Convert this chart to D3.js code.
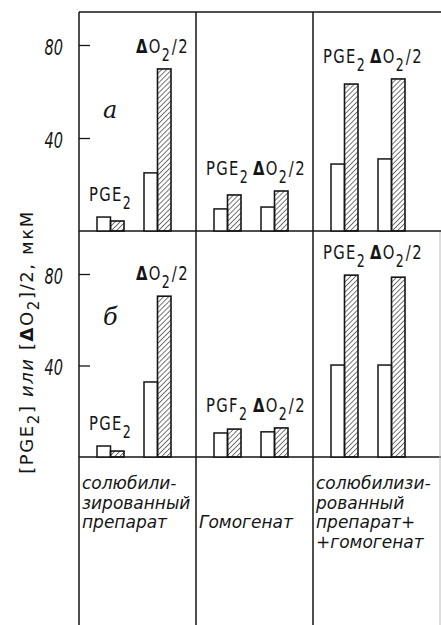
<!DOCTYPE html>
<html>
<head>
<meta charset="utf-8">
<script src="https://cdn.jsdelivr.net/npm/d3@7"></script>
<style>
body { margin: 0; background: #fff; }
svg { display: block; }
.frame line { stroke: #151515; stroke-width: 1.5; }
.tick line { stroke: #151515; stroke-width: 1.3; }
.tick text { font-family: "DejaVu Sans", sans-serif; font-style: italic; font-size: 22px; fill: #151515; }
.barlabel { font-family: "DejaVu Sans", sans-serif; font-size: 20px; letter-spacing: 1.8px; fill: #151515; }
.cat { font-family: "DejaVu Sans", sans-serif; font-style: italic; font-size: 17px; fill: #151515; }
.letter { font-family: "DejaVu Serif", serif; font-style: italic; font-size: 24px; fill: #151515; }
.ytitle { font-family: "DejaVu Sans", sans-serif; font-size: 18px; letter-spacing: 1.6px; fill: #151515; }
</style>
</head>
<body>
<div id="chart"></div>
<script>
// данные
const columns = ["солюбилизированный препарат", "Гомогенат", "солюбилизированный препарат + гомогенат"]
const colLines = [["солюбили-", "зированный", "препарат"], ["", "", "Гомогенат"], ["солюбилизи-", "рованный", "препарат+", "+гомогенат"]]
const pairs = ["p1", "p2"]
const ticks = [40, 80]

// панель а
const openA = [[6, 25], [9.5, 10.3], [28.8, 31]]
const hatchA = [[4.3, 69.7], [15.5, 17.2], [63.2, 65.4]]
const labelsA = [["PGE2", "ΔO2/2"], ["PGE2", "ΔO2/2"], ["PGE2", "ΔO2/2"]]

// панель б
const openB = [[4.8, 32.8], [10.5, 11], [40.2, 40.2]]
const hatchB = [[2.6, 70.3], [12.2, 12.7], [79.5, 78.6]]
const labelsB = [["PGE2", "ΔO2/2"], ["PGF2", "ΔO2/2"], ["PGE2", "ΔO2/2"]]

const width = 441
const height = 625
const left = 79
const narrow = 0.74   // узкий чертёжный шрифт
const tickNarrow = 0.66

const svg = d3.select("div#chart").append("svg").attr("width", width).attr("height", height)

// штриховка
const defs = svg.append("defs")
defs.append("pattern")
    .attr("id", "hatch")
    .attr("patternUnits", "userSpaceOnUse")
    .attr("width", 3.6).attr("height", 3.6)
    .attr("patternTransform", "rotate(45)")
    .append("line")
    .attr("x1", 0).attr("y1", 0).attr("x2", 0).attr("y2", 3.6)
    .attr("stroke", "#1a1a1a").attr("stroke-width", 1.2)

const colX = d3.scaleBand().domain(d3.range(columns.length)).range([left, 430])
const pairX = d3.scaleBand().domain(pairs).range([18, 92]).paddingInner(20 / 47)
const kindX = d3.scaleBand().domain(["open", "hatch"]).range([0, pairX.bandwidth()])

const yA = d3.scaleLinear().domain([0, 80]).range([231, 45])
const yB = d3.scaleLinear().domain([0, 80]).range([457, 274])

// рамка
const frame = svg.append("g").attr("class", "frame")
;[12, 231, 457].forEach(yy => {
    frame.append("line").attr("x1", left).attr("x2", width).attr("y1", yy).attr("y2", yy)
})
;[0, 1, 2].forEach(c => {
    frame.append("line").attr("x1", colX(c)).attr("x2", colX(c)).attr("y1", 12).attr("y2", height)
})
frame.append("line").attr("x1", 440).attr("x2", 440).attr("y1", 232).attr("y2", height)
    .style("stroke", "#bbb").style("stroke-width", 1)

function addLabel(sel, str) {
    // "PGE2" -> PGE + индекс 2 ; "ΔO2/2" -> ΔO + индекс 2 + /2
    const m = str.match(/^(.*?[A-Z])2(.*)$/)
    let main = m[1]
    if (main.startsWith("Δ")) {
        sel.append("tspan").attr("font-weight", "bold").text("Δ")
        main = main.slice(1)
    }
    sel.append("tspan").text(main)
    sel.append("tspan").attr("dy", 8).attr("font-size", 17).text("2")
    if (m[2]) sel.append("tspan").attr("dy", -8).attr("dx", 1).text(m[2])
}

function drawPanel(y, openVals, hatchVals, labels, letter, top, letterDy) {
    const g = svg.append("g")

    const axis = d3.axisLeft(y).tickValues(ticks).tickSize(-11).tickPadding(16)
    const ax = g.append("g").attr("transform", `translate(${left},0)`).call(axis)
    ax.select(".domain").remove()
    ax.selectAll(".tick text")
        .attr("x", -16 / tickNarrow)
        .attr("dy", "0.42em")
        .attr("transform", `scale(${tickNarrow},1)`)

    const rows = []
    openVals.forEach((vals, c) => {
        const colMax = d3.max([...vals, ...hatchVals[c]])
        vals.forEach((v, p) => {
            rows.push({
                c: c, p: pairs[p],
                open: v, hatch: hatchVals[c][p],
                label: labels[c][p],
                ref: c === 0 ? Math.max(v, hatchVals[c][p]) : colMax
            })
        })
    })

    const grp = g.selectAll("g.pair").data(rows).enter().append("g")
        .attr("class", "pair")
        .attr("transform", d => `translate(${colX(d.c) + pairX(d.p)},0)`)

    grp.append("rect")
        .attr("x", kindX("open"))
        .attr("y", d => y(d.open))
        .attr("width", kindX.bandwidth())
        .attr("height", d => y(0) - y(d.open))
        .attr("fill", "#fff").attr("stroke", "#151515").attr("stroke-width", 1.5)

    grp.append("rect")
        .attr("x", kindX("hatch"))
        .attr("y", d => y(d.hatch))
        .attr("width", kindX.bandwidth())
        .attr("height", d => y(0) - y(d.hatch))
        .attr("fill", "url(#hatch)").attr("stroke", "#151515").attr("stroke-width", 1.6)

    grp.append("text")
        .attr("class", "barlabel")
        .attr("transform", d => `translate(-8,${y(d.ref) - 16}) scale(${narrow},1)`)
        .each(function(d) { addLabel(d3.select(this), d.label) })

    g.append("text").attr("class", "letter")
        .attr("x", colX(0) + 24).attr("y", top + letterDy)
        .text(letter)
}

drawPanel(yA, openA, hatchA, labelsA, "а", 12, 106)
drawPanel(yB, openB, hatchB, labelsB, "б", 232, 93)

// подписи столбцов
colLines.forEach((lines, c) => {
    const t = svg.append("text").attr("class", "cat")
    lines.forEach((s, i) => {
        t.append("tspan").attr("x", colX(c) + 3).attr("y", 489 + i * 19.5).text(s)
    })
})

// подпись оси Y
const yt = svg.append("text").attr("class", "ytitle")
    .attr("transform", "translate(33,342) rotate(-90)")
    .attr("text-anchor", "middle")
yt.append("tspan").text("[PGE")
yt.append("tspan").attr("dy", 6).attr("font-size", 15).text("2")
yt.append("tspan").attr("dy", -6).text("] ")
yt.append("tspan").attr("font-style", "italic").text("или")
yt.append("tspan").text(" [")
yt.append("tspan").attr("font-weight", "bold").text("Δ")
yt.append("tspan").text("O")
yt.append("tspan").attr("dy", 6).attr("font-size", 15).text("2")
yt.append("tspan").attr("dy", -6).text("]/2, мкМ")
</script>
</body>
</html>
